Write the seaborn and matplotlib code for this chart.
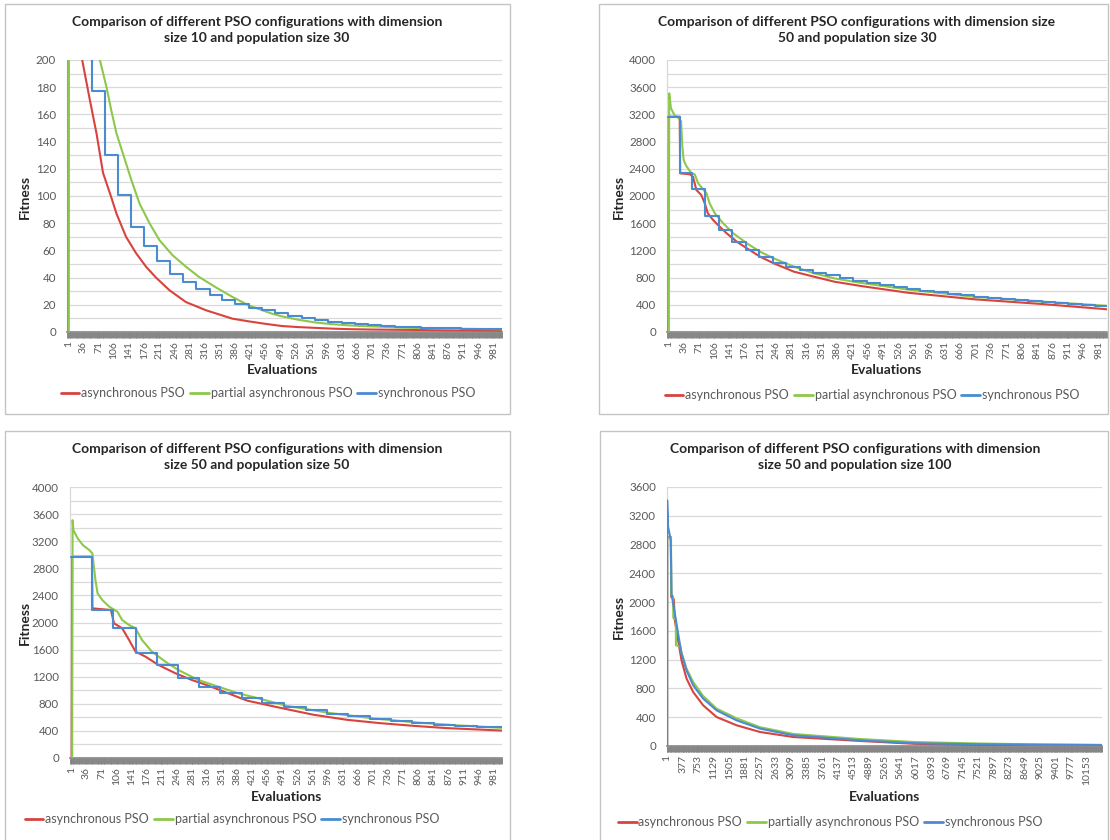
import matplotlib
matplotlib.use("Agg")
import matplotlib.pyplot as plt
from matplotlib.ticker import MultipleLocator, FixedLocator
from matplotlib.patches import Rectangle
from matplotlib.lines import Line2D
import seaborn as sns

sns.set_theme(style="white")
plt.rcParams["font.family"] = ["Lato", "DejaVu Sans"]

W, H = 1110, 840

# ---------------- data ----------------
names_std = ["asynchronous PSO", "partial asynchronous PSO", "synchronous PSO"]
names_p4 = ["asynchronous PSO", "partially asynchronous PSO", "synchronous PSO"]

titles = [
    "Comparison of different PSO configurations with dimension\nsize 10 and population size 30",
    "Comparison of different PSO configurations with dimension size\n50 and population size 30",
    "Comparison of different PSO configurations with dimension\nsize 50 and population size 50",
    "Comparison of different PSO configurations with dimension\nsize 50 and population size 100",
]

# dimension 10, population 30
d10p30_async_x = [1, 2, 18, 33, 51, 66, 81, 100, 112, 134, 157, 180, 203, 234, 272, 318,
                  379, 417, 455, 493, 531, 607, 646, 700, 798, 900, 1000]
d10p30_async_y = [0, 480, 260, 200, 170, 146, 117, 99, 87, 70, 58, 48, 40, 30.7, 22, 16,
                  9.8, 7.8, 6.0, 4.4, 3.6, 2.5, 2.1, 1.8, 1.5, 1.2, 1.0]
d10p30_partial_x = [2, 3, 40, 73, 89, 100, 112, 127, 146, 165, 188, 211, 241, 272, 302, 340,
                    379, 417, 470, 493, 531, 570, 607, 646, 683, 722, 760, 836, 875, 1000]
d10p30_partial_y = [0, 560, 300, 201, 180, 163, 146, 131, 112, 94.5, 80, 67.5, 56.5, 48, 40.5, 33,
                    25.8, 19.5, 13.5, 11.5, 9.0, 7.0, 5.8, 4.9, 4.3, 3.9, 3.3, 2.7, 2.5, 2.0]
d10p30_sync_x = [1, 25, 55, 85, 115, 146, 175, 205, 235, 266, 296, 327, 356, 386, 417, 447,
                 478, 508, 539, 570, 600, 631, 661, 692, 722, 753, 783, 814, 844, 875, 905,
                 936, 966, 1000]
d10p30_sync_y = [420, 240, 177, 130, 101, 77, 63.5, 52, 43, 37, 31.5, 27, 23.5, 20.5, 18, 16,
                 13.7, 11.8, 10, 8.8, 7.6, 6.4, 5.6, 5.0, 4.4, 3.9, 3.5, 3.2, 2.9, 2.7, 2.5,
                 2.3, 2.2, 2.2]

# dimension 50, population 30
d50p30_async_x = [1, 2, 27, 28, 50, 57, 65, 76, 84, 91, 103, 118, 134, 157, 180, 210, 241,
                  287, 333, 379, 440, 546, 698, 851, 1000]
d50p30_async_y = [0, 3166, 3166, 2333, 2320, 2284, 2088, 2015, 1892, 1745, 1647, 1549, 1451,
                  1328, 1231, 1108, 1010, 887, 813, 740, 676, 578, 481, 412, 334]
d50p30_partial_x = [2, 3, 7, 15, 25, 30, 33, 36, 42, 54, 61, 69, 88, 95, 107, 126, 149, 180,
                    210, 241, 287, 333, 379, 432, 546, 698, 851, 1000]
d50p30_partial_y = [0, 3510, 3290, 3191, 3142, 3100, 2725, 2529, 2440, 2333, 2320, 2186, 2040,
                    1892, 1745, 1598, 1451, 1304, 1181, 1083, 961, 863, 789, 730, 625, 518,
                    448, 385]
d50p30_sync_x = [1, 28, 55, 85, 116, 147, 177, 208, 239, 269, 300, 331, 361, 392, 422, 453,
                 484, 514, 545, 575, 606, 637, 667, 698, 728, 759, 790, 820, 851, 881, 912,
                 943, 973, 1000]
d50p30_sync_y = [3166, 2333, 2098, 1711, 1500, 1319, 1206, 1108, 1010, 960, 915, 872, 832, 790,
                 752, 718, 686, 657, 630, 605, 583, 562, 542, 522, 505, 489, 474, 459, 446,
                 433, 415, 400, 385, 385]

# dimension 50, population 50
d50p50_async_x = [2, 3, 49, 50, 93, 100, 119, 135, 150, 173, 203, 242, 280, 318, 357, 395,
                  410, 450, 486, 563, 640, 716, 792, 869, 1000]
d50p50_async_y = [0, 2969, 2969, 2209, 2184, 1988, 1915, 1742, 1570, 1496, 1374, 1252, 1153,
                  1070, 975, 880, 845, 790, 740, 638, 564, 515, 476, 442, 405]
d50p50_partial_x = [3, 4, 6, 16, 28, 43, 50, 57, 62, 73, 89, 108, 119, 135, 150, 165, 188,
                    219, 249, 295, 341, 387, 433, 500, 600, 700, 800, 900, 1000]
d50p50_partial_y = [0, 3510, 3362, 3240, 3141, 3068, 3019, 2626, 2430, 2331, 2233, 2159, 2037,
                    1963, 1915, 1742, 1570, 1423, 1300, 1153, 1055, 957, 884, 770, 665, 585,
                    525, 480, 445]
d50p50_sync_x = [1, 49, 98, 150, 200, 248, 297, 347, 396, 444, 495, 545, 593, 643, 693, 743,
                 792, 842, 892, 941, 1000]
d50p50_sync_y = [2960, 2184, 1915, 1546, 1374, 1178, 1046, 957, 884, 819, 751, 711, 648, 613,
                 579, 540, 515, 490, 466, 451, 451]

# dimension 50, population 100
d50p100_async_x = [1, 2, 90, 100, 163, 187, 267, 349, 470, 630, 872, 1196, 1680, 2245, 3051,
                   4665, 6000, 7500, 9000, 10500]
d50p100_async_y = [0, 2905, 2905, 2071, 2040, 1747, 1469, 1191, 937, 751, 566, 403, 288, 195,
                   125, 70, 30, 15, 8, 4]
d50p100_partial_x = [1, 2, 95, 100, 146, 150, 211, 215, 320, 349, 470, 630, 872, 1196, 1680,
                     2245, 3051, 4665, 6000, 7500, 9000, 10500]
d50p100_partial_y = [0, 2900, 2900, 2100, 2080, 1780, 1760, 1400, 1380, 1300, 1075, 890, 695,
                     520, 385, 262, 167, 97, 55, 35, 22, 15]
d50p100_sync_x = [1, 2, 25, 66, 90, 107, 187, 267, 349, 470, 630, 872, 1196, 1680, 2245, 3051,
                  4665, 6000, 7500, 9000, 10500]
d50p100_sync_y = [0, 3415, 3044, 2929, 2850, 2118, 1840, 1562, 1284, 1052, 844, 659, 496, 357,
                  242, 149, 79, 38, 25, 18, 14]

# x tick labels (category axis)
ticks_1000 = list(range(1, 1000, 35))
ticks_10500 = list(range(1, 10500, 376))

series = [
    [(d10p30_async_x, d10p30_async_y), (d10p30_partial_x, d10p30_partial_y), (d10p30_sync_x, d10p30_sync_y)],
    [(d50p30_async_x, d50p30_async_y), (d50p30_partial_x, d50p30_partial_y), (d50p30_sync_x, d50p30_sync_y)],
    [(d50p50_async_x, d50p50_async_y), (d50p50_partial_x, d50p50_partial_y), (d50p50_sync_x, d50p50_sync_y)],
    [(d50p100_async_x, d50p100_async_y), (d50p100_partial_x, d50p100_partial_y), (d50p100_sync_x, d50p100_sync_y)],
]

colors = ["#D8433E", "#8DC84B", "#4A8BD2"]

# ---------------- layout (pixel boxes) ----------------
layout = [
    dict(rect=(67, 60, 502, 332), title_xy=(257, 30), xlab_xy=(283, 370), ylab_xy=(25, 197),
         leg_xy=(268, 393), ymax=200, ystep=20, yminor=10, xmax=1000, ticks=ticks_1000,
         band=2, names=names_std, step_sync=True),
    dict(rect=(667, 60, 1107, 332), title_xy=(857, 30), xlab_xy=(887, 370), ylab_xy=(619, 197),
         leg_xy=(872, 395), ymax=4000, ystep=400, yminor=200, xmax=1000, ticks=ticks_1000,
         band=2, names=names_std, step_sync=True),
    dict(rect=(70, 487, 502, 758), title_xy=(257, 457), xlab_xy=(287, 797), ylab_xy=(25, 623),
         leg_xy=(232, 819), ymax=4000, ystep=400, yminor=200, xmax=1000, ticks=ticks_1000,
         band=2, names=names_std, step_sync=True),
    dict(rect=(667, 487, 1102, 746), title_xy=(855, 457), xlab_xy=(885, 797), ylab_xy=(619, 617),
         leg_xy=(830, 822), ymax=3600, ystep=400, yminor=None, xmax=10515, ticks=ticks_10500,
         band=15, names=names_p4, step_sync=False),
]


def fx(x):
    return x / W


def fy(y):
    return 1 - y / H


fig = plt.figure(figsize=(W / 100, H / 100), dpi=100)
fig.patch.set_facecolor("white")

# panel frames
for (l, t, r, b) in [(5, 4, 510, 414), (599, 4, 1108, 414), (5, 431, 510, 850), (600, 431, 1108, 850)]:
    fig.patches.append(Rectangle((fx(l), fy(b)), (r - l) / W, (b - t) / H,
                                 transform=fig.transFigure, fill=False,
                                 edgecolor="#c4c4c4", linewidth=1.0))

text_gray = "#595959"

for spec, title, data in zip(layout, titles, series):
    l, t, r, b = spec["rect"]
    ax = fig.add_axes([fx(l), fy(b), (r - l) / W, (b - t) / H])
    ax.set_facecolor("white")

    for k, ((xs, ys), col, name) in enumerate(zip(data, colors, spec["names"])):
        kw = {}
        if k == 2 and spec["step_sync"]:
            kw["drawstyle"] = "steps-post"
        sns.lineplot(x=xs, y=ys, ax=ax, color=col, linewidth=1.5, label=name,
                     errorbar=None, sort=False, zorder=3 + k, **kw)

    ax.set_xlim(-2, spec["xmax"])
    ax.set_ylim(0, spec["ymax"])

    # value axis
    ax.yaxis.set_major_locator(MultipleLocator(spec["ystep"]))
    if spec["yminor"]:
        ax.yaxis.set_minor_locator(MultipleLocator(spec["yminor"]))
    ax.grid(axis="y", which="both", color="#d9d9d9", linewidth=0.9, zorder=0)
    ax.tick_params(axis="y", which="both", left=False, length=0, labelsize=8.3,
                   labelcolor=text_gray, pad=8)
    ax.set_yticks(range(0, spec["ymax"] + 1, spec["ystep"]))
    ax.set_yticklabels([str(v) for v in range(0, spec["ymax"] + 1, spec["ystep"])])

    # category axis with dense tick band
    ax.xaxis.set_major_locator(FixedLocator(spec["ticks"]))
    ax.set_xticklabels([str(v) for v in spec["ticks"]], rotation=90)
    ax.xaxis.set_minor_locator(MultipleLocator(spec["band"]))
    ax.tick_params(axis="x", which="both", bottom=True, direction="out", length=4.5,
                   width=0.7, color="#858585", labelsize=7.5, labelcolor=text_gray, pad=2)

    for side in ("top", "right"):
        ax.spines[side].set_visible(False)
    ax.spines["left"].set_color("#d9d9d9")
    ax.spines["left"].set_linewidth(0.9)
    ax.spines["bottom"].set_color("#858585")
    ax.spines["bottom"].set_linewidth(1.2)
    ax.set_xlabel("")
    ax.set_ylabel("")

    handles = [Line2D([], [], color=c, linewidth=2.0) for c in colors]
    ax.legend(handles, spec["names"], loc="center", ncol=3, frameon=False,
              bbox_to_anchor=(fx(spec["leg_xy"][0]), fy(spec["leg_xy"][1])),
              bbox_transform=fig.transFigure, fontsize=9, handlelength=1.5,
              handletextpad=0.15, columnspacing=0.4, labelcolor=text_gray)

    fig.text(fx(spec["title_xy"][0]), fy(spec["title_xy"][1]), title, ha="center", va="center",
             fontsize=10, fontweight="bold", color="#262626", linespacing=1.35)
    fig.text(fx(spec["xlab_xy"][0]), fy(spec["xlab_xy"][1]), "Evaluations", ha="center",
             va="center", fontsize=10, fontweight="bold", color="#262626")
    fig.text(fx(spec["ylab_xy"][0]), fy(spec["ylab_xy"][1]), "Fitness", ha="center",
             va="center", fontsize=10, fontweight="bold", color="#262626", rotation=90)

fig.savefig("out.png", dpi=100, facecolor="white")
